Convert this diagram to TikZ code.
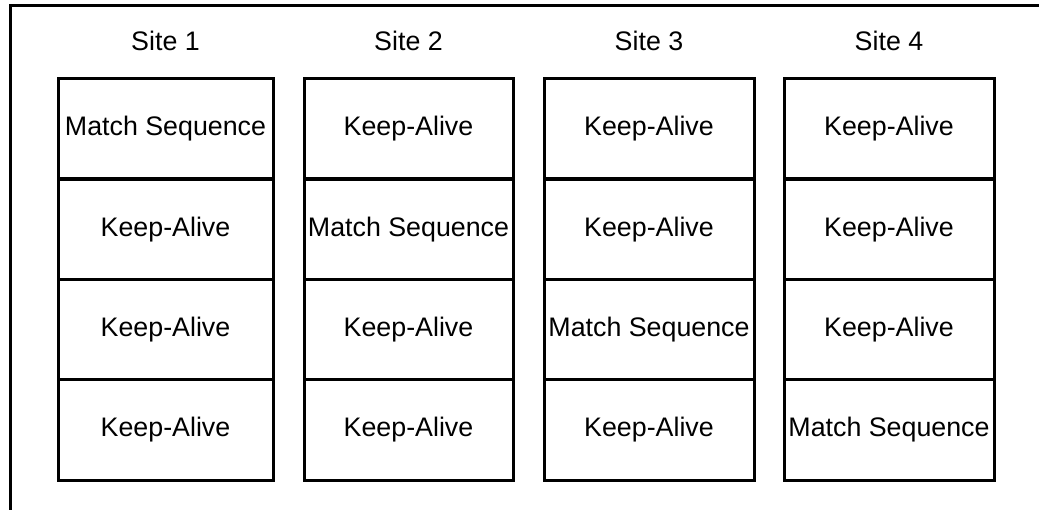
\documentclass[tikz,border=0pt]{standalone}
\usepackage{fontspec}
\setmainfont{Liberation Sans}
\begin{document}
\begin{tikzpicture}[x=1pt,y=-1pt,
  cell/.style={draw=black,line width=3pt,rectangle,inner sep=0pt,minimum height=100pt,text height=19pt,text depth=5pt,font=\fontsize{26.8}{30}\selectfont},
  sitelabel/.style={inner sep=0pt,font=\fontsize{26.8}{30}\selectfont},
  frame/.style={draw=black,line width=3pt}]
\useasboundingbox (0,0) rectangle (1039,510);
% outer frame (cut at right and bottom)
\coordinate (fbl) at (10,512);
\coordinate (ftl) at (10,6);
\coordinate (ftr) at (1041,6);
\draw[frame] (fbl) -- (ftl) -- (ftr);
% columns
\foreach \c/\x/\w in {1/165.5/215, 2/408.5/209, 3/649/210, 4/889/210}{
  \node[sitelabel] (site\c) at (\x,41) {Site \c};
  \foreach \r/\y in {1/129, 2/229.5, 3/329.5, 4/430}{
    \ifnum\r=\c
      \node[cell,minimum width=\w pt] (c\c r\r) at (\x,\y) {Match Sequence};
    \else
      \node[cell,minimum width=\w pt] (c\c r\r) at (\x,\y) {Keep-Alive};
    \fi
  }
}
\end{tikzpicture}
\end{document}
